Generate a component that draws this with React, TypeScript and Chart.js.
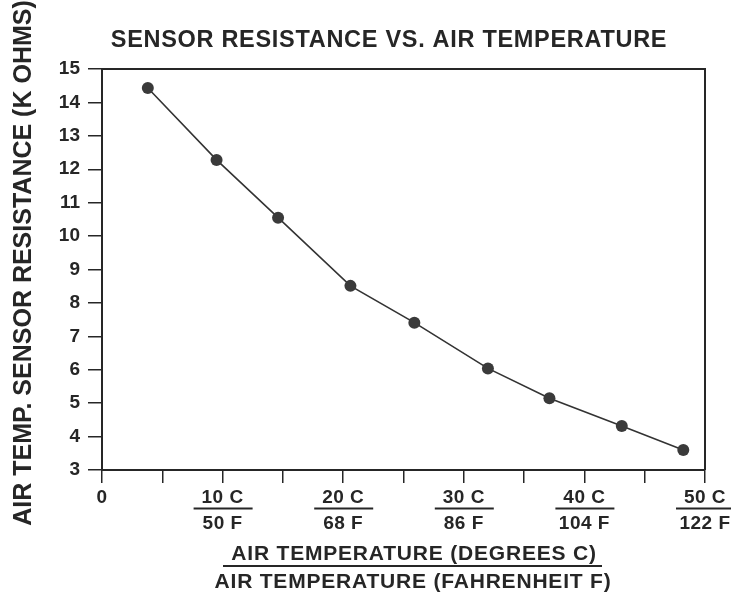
import React, { useEffect, useRef } from "react";
import { Chart, registerables } from "chart.js";

Chart.register(...registerables);

// ---- data ----
const tempC = [3.8, 9.5, 14.6, 20.6, 25.9, 32.0, 37.1, 43.1, 48.2];
const resistanceK = [14.43, 12.28, 10.55, 8.51, 7.41, 6.04, 5.15, 4.32, 3.6];

const xTickValues = [0, 10, 20, 30, 40, 50];
const xTickC = ["0", "10 C", "20 C", "30 C", "40 C", "50 C"];
const xTickF = ["", "50 F", "68 F", "86 F", "104 F", "122 F"];

const chartTitle = "SENSOR RESISTANCE VS. AIR TEMPERATURE";
const yTitle = "AIR TEMP. SENSOR RESISTANCE (K OHMS)";
const xTitleC = "AIR TEMPERATURE (DEGREES C)";
const xTitleF = "AIR TEMPERATURE (FAHRENHEIT F)";

const INK = "#262626";
const FONT = "'Liberation Sans', Arial, Helvetica, sans-serif";

export default function App() {
  const ref = useRef<HTMLCanvasElement>(null);

  useEffect(() => {
    document.body.style.margin = "0";
    const canvas = ref.current;
    if (!canvas) return;

    const annot = {
      id: "annot",
      afterDraw(chart: any) {
        const { ctx, chartArea: a, scales } = chart;
        const xs = scales.x;
        ctx.save();
        // top and right frame
        ctx.strokeStyle = INK;
        ctx.lineWidth = 2;
        ctx.beginPath();
        ctx.moveTo(a.left, a.top);
        ctx.lineTo(a.right, a.top);
        ctx.lineTo(a.right, a.bottom);
        ctx.stroke();

        ctx.fillStyle = INK;
        ctx.textAlign = "center";
        ctx.textBaseline = "middle";

        // title
        ctx.font = `bold 23.5px ${FONT}`;
        (ctx as any).letterSpacing = "0.7px";
        ctx.fillText(chartTitle, a.left + 287, a.top - 28);

        // y title
        ctx.save();
        ctx.font = `bold 25px ${FONT}`;
        (ctx as any).letterSpacing = "0px";
        ctx.translate(24, 263);
        ctx.rotate(-Math.PI / 2);
        ctx.fillText(yTitle, 0, 0);
        ctx.restore();

        // x tick labels (two lines, underlined)
        ctx.font = `bold 19px ${FONT}`;
        (ctx as any).letterSpacing = "0.5px";
        xTickValues.forEach((v, i) => {
          const px = xs.getPixelForValue(v);
          ctx.fillText(xTickC[i], px, a.bottom + 28);
          if (xTickF[i]) {
            ctx.fillText(xTickF[i], px, a.bottom + 54);
            ctx.lineWidth = 2;
            ctx.beginPath();
            ctx.moveTo(px - 29, a.bottom + 38.5);
            ctx.lineTo(px + 30, a.bottom + 38.5);
            ctx.stroke();
          }
        });

        // x titles
        ctx.font = `bold 21px ${FONT}`;
        (ctx as any).letterSpacing = "0.8px";
        ctx.fillText(xTitleC, 414, a.bottom + 84);
        ctx.lineWidth = 2;
        ctx.beginPath();
        ctx.moveTo(223, a.bottom + 96);
        ctx.lineTo(602, a.bottom + 96);
        ctx.stroke();
        ctx.fillText(xTitleF, 413, a.bottom + 112);
        ctx.restore();
      },
    };

    const chart = new Chart(canvas, {
      type: "line",
      data: {
        datasets: [
          {
            data: tempC.map((t, i) => ({ x: t, y: resistanceK[i] })),
            borderColor: "#333333",
            borderWidth: 1.6,
            pointRadius: 6,
            pointBackgroundColor: "#3a3a3a",
            pointBorderColor: "#3a3a3a",
            pointBorderWidth: 0,
            tension: 0,
          },
        ],
      },
      options: {
        responsive: false,
        animation: false,
        layout: { padding: { top: 69, right: 26, left: 0, bottom: 0 } },
        plugins: {
          legend: { display: false },
          tooltip: { enabled: false },
          title: { display: false },
        },
        scales: {
          x: {
            type: "linear",
            min: 0,
            max: 50,
            ticks: { stepSize: 5, display: false },
            grid: {
              drawOnChartArea: false,
              drawTicks: true,
              tickLength: 13,
              color: INK,
              lineWidth: 1.5,
            },
            border: { display: true, color: INK, width: 2 },
            afterFit: (s: any) => {
              s.height = 124;
            },
          },
          y: {
            type: "linear",
            min: 3,
            max: 15,
            ticks: {
              stepSize: 1,
              color: INK,
              padding: 8,
              font: { size: 19, weight: "bold", family: FONT },
            },
            grid: {
              drawOnChartArea: false,
              drawTicks: true,
              tickLength: 14,
              color: INK,
              lineWidth: 1.5,
            },
            border: { display: true, color: INK, width: 2 },
            afterFit: (s: any) => {
              s.width = 102;
            },
          },
        },
      },
      plugins: [annot],
    } as any);

    return () => chart.destroy();
  }, []);

  return (
    <div style={{ width: 731, height: 594 }}>
      <canvas ref={ref} width={731} height={594} style={{ display: "block" }} />
    </div>
  );
}
